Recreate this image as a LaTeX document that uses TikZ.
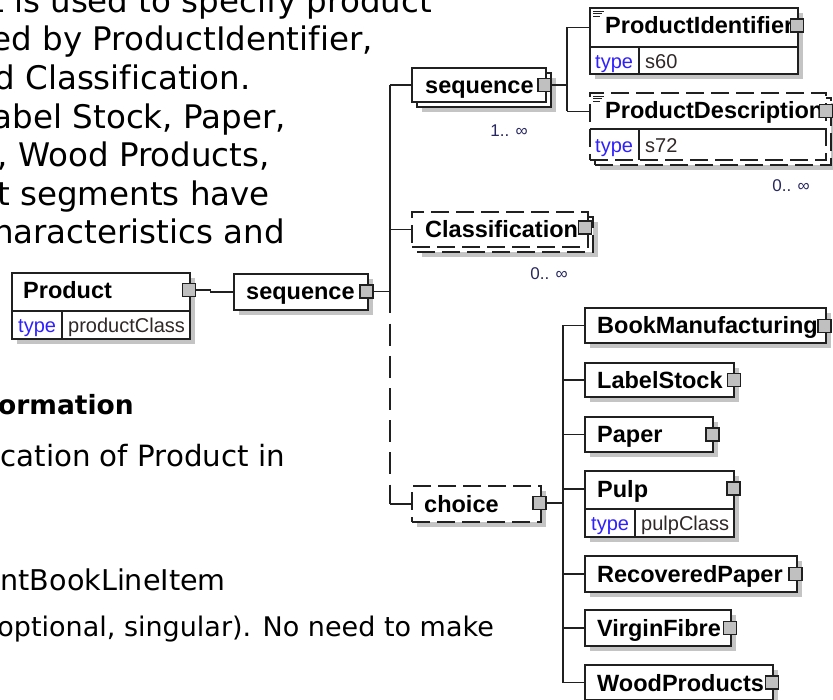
\documentclass[tikz,border=0pt]{standalone}
\usepackage{fontspec}
\setmainfont[Ligatures=NoCommon]{DejaVu Sans}
\newfontfamily\arialf[Ligatures=NoCommon]{Liberation Sans}
\definecolor{shadowgray}{RGB}{196,196,196}
\definecolor{sqgray}{RGB}{192,192,192}
\definecolor{typeblue}{RGB}{48,32,255}
\definecolor{valgray}{RGB}{48,40,40}
\definecolor{multblue}{RGB}{40,40,96}
\definecolor{linecol}{RGB}{32,32,32}
\pgfdeclarelayer{bg}
\pgfsetlayers{bg,main}
\tikzset{
  boxst/.style={draw=linecol, line width=1.6pt, fill=white, inner sep=0pt, outer sep=0pt, rectangle},
  dboxst/.style={boxst, dash pattern=on 18pt off 7pt},
  shad/.style={fill=shadowgray},
  sqst/.style={draw=linecol, line width=1.3pt, fill=sqgray, minimum size=13pt, inner sep=0pt, outer sep=0pt, rectangle},
  conn/.style={draw=linecol, line width=1.6pt},
  dconn/.style={conn, dash pattern=on 22pt off 10.2pt},
  sep/.style={draw=linecol, line width=1.4pt},
  icon/.style={draw=linecol, line width=0.9pt},
  ename/.style={font=\arialf\bfseries\fontsize{23.5}{23.5}\selectfont, anchor=base west, inner sep=0pt},
  tkey/.style={font=\arialf\fontsize{20}{20}\selectfont, text=typeblue, anchor=base west, inner sep=0pt},
  tval/.style={font=\arialf\fontsize{20}{20}\selectfont, text=valgray, anchor=base west, inner sep=0pt},
  mult/.style={font=\arialf\fontsize{17}{17}\selectfont, text=multblue, anchor=base east, inner sep=0pt},
  para/.style={anchor=base east, inner sep=0pt, font=\fontsize{32.5}{38}\selectfont},
}
\newcommand\xbox[6]{\node[#1, anchor=north west, minimum width={#5-#3}, minimum height={#6-#4}] (#2) at (#3,#4) {};}
\newcommand\shadowof[1]{\begin{pgfonlayer}{bg}\fill[shad] ([shift={(5,5)}]#1.north west) rectangle ([shift={(5,5)}]#1.south east);\end{pgfonlayer}}
\begin{document}
\begin{tikzpicture}[x=1pt,y=-1pt]
\useasboundingbox (0,0) rectangle (833,700);
\clip (0,0) rectangle (833,700);
\begin{pgfonlayer}{bg}\fill[white] (0,0) rectangle (833,700);\end{pgfonlayer}

% ---- document text ----
\node[para] (t1) at (432,12.3) {t is used to specify product};
\node[para] (t2) at (373,50.9) {ed by ProductIdentifier,};
\node[para] (t3) at (251,89.5) {d Classification.};
\node[para] (t4) at (286,128.1) {abel Stock, Paper,};
\node[para] (t5) at (270,166.7) {, Wood Products,};
\node[para] (t6) at (270,205.3) {t segments have};
\node[para] (t7) at (285,243.9) {haracteristics and};
\node[para, font=\bfseries\fontsize{26.5}{30}\selectfont] (t8) at (134,415) {ormation};
\node[para, font=\fontsize{29.3}{34}\selectfont] (t9) at (285,467) {cation of Product in};
\node[para, font=\fontsize{28.6}{34}\selectfont] (t10) at (226,590) {ntBookLineItem};
\node[para, font=\fontsize{27}{32}\selectfont] (t11) at (494,636.5) {optional, singular). No need to make};

% ---- Product ----
\xbox{boxst}{product}{12}{273}{190}{339}
\shadowof{product}
\draw[sep] (12,311) -- (190,311);
\draw[sep] (62,311) -- (62,339);
\node[ename] (productname) at (23,299) {Product};
\node[tkey] (producttype) at (18,333) {type};
\node[tval] (productval) at (68,333) {productClass};
\node[sqst] (productsq) at (189,290) {};

% ---- main sequence ----
\xbox{boxst}{mseq}{234}{274}{368}{310}
\shadowof{mseq}
\node[ename] (mseqname) at (246,300) {sequence};
\node[sqst] (mseqsq) at (366.5,291.5) {};
\draw[conn] (productsq.east) -- ++(15,0) |- (mseq.west);

% ---- inner sequence (1..inf) ----
\xbox{boxst}{iseqb}{417}{73}{551}{107}
\shadowof{iseqb}
\xbox{boxst}{iseq}{412}{68}{546}{102}
\node[ename] (iseqname) at (425,94) {sequence};
\node[sqst] (iseqsq) at (544.5,85) {};
\node[mult] (iseqm) at (528,137) {1.. ∞};

% ---- ProductIdentifier ----
\xbox{boxst}{pid}{590}{8}{798}{74}
\shadowof{pid}
\draw[sep] (590,47) -- (798,47);
\draw[sep] (639,47) -- (639,74);
\draw[icon] (593,11.5) -- (604,11.5) (593,13.8) -- (602,13.8) (593,16.1) -- (600,16.1);
\node[ename] (pidname) at (605,34) {ProductIdentifier};
\node[tkey] (pidtype) at (595,68.5) {type};
\node[tval] (pidval) at (645,68.5) {s60};
\node[sqst] (pidsq) at (797,25.5) {};
\coordinate (pidin) at (590,27.5);

% ---- ProductDescription (0..inf) ----
\xbox{dboxst}{pdb}{595}{98}{831}{165}
\shadowof{pdb}
\xbox{dboxst}{pd}{590}{93}{826}{160}
\draw[sep] (590,129) -- (826,129);
\draw[sep] (639,129) -- (639,160);
\draw[icon] (593,96.5) -- (604,96.5) (593,98.8) -- (602,98.8) (593,101.1) -- (600,101.1);
\node[ename] (pdname) at (605,119) {ProductDescription};
\node[tkey] (pdtype) at (595,153) {type};
\node[tval] (pdval) at (645,153) {s72};
\node[sqst] (pdsq) at (826,111) {};
\node[mult] (pdm) at (810,192) {0.. ∞};
\coordinate (pdin) at (590,111.5);

% ---- Classification (0..inf) ----
\xbox{dboxst}{clsfb}{417}{217}{593}{252}
\shadowof{clsfb}
\xbox{dboxst}{clsf}{412}{212}{588}{247}
\node[ename] (clsfname) at (425,238) {Classification};
\node[sqst] (clsfsq) at (585,227.5) {};
\node[mult] (clsfm) at (568,280) {0.. ∞};

% ---- choice ----
\xbox{dboxst}{choice}{412}{486}{541}{522}
\shadowof{choice}
\node[ename] (choicename) at (424,512) {choice};
\node[sqst] (choicesq) at (539.5,503) {};

% ---- choice children ----
\xbox{boxst}{book}{585}{308}{826}{343}
\shadowof{book}
\node[ename] (bookname) at (597,334) {BookManufacturing};
\node[sqst] (booksq) at (824.5,326) {};

\xbox{boxst}{label}{585}{363}{734}{397}
\shadowof{label}
\node[ename] (labelname) at (597,389) {LabelStock};
\node[sqst] (labelsq) at (734,380) {};

\xbox{boxst}{paper}{585}{417}{713}{452}
\shadowof{paper}
\node[ename] (papername) at (597,443) {Paper};
\node[sqst] (papersq) at (712.5,434.5) {};

\xbox{boxst}{pulp}{585}{471}{734}{537}
\shadowof{pulp}
\draw[sep] (585,509) -- (734,509);
\draw[sep] (635,509) -- (635,537);
\node[ename] (pulpname) at (597,497) {Pulp};
\node[tkey] (pulptype) at (591,530.5) {type};
\node[tval] (pulpval) at (641,530.5) {pulpClass};
\node[sqst] (pulpsq) at (733.5,488.5) {};
\coordinate (pulpin) at (585,489);

\xbox{boxst}{recov}{585}{556}{797}{592}
\shadowof{recov}
\node[ename] (recovname) at (597,582) {RecoveredPaper};
\node[sqst] (recovsq) at (795.5,574) {};

\xbox{boxst}{virgin}{585}{610}{731}{646}
\shadowof{virgin}
\node[ename] (virginname) at (597,636) {VirginFibre};
\node[sqst] (virginsq) at (730,628) {};

\xbox{boxst}{wood}{585}{665}{773}{700}
\shadowof{wood}
\node[ename] (woodname) at (597,691) {WoodProducts};
\node[sqst] (woodsq) at (772,682.5) {};

% ---- connectors ----
\coordinate (vx) at (390,0);
\coordinate (vx2) at (567,0);
\coordinate (vx3) at (563,0);

\draw[conn] (mseqsq.east) -- (mseqsq.east -| vx);
\draw[conn] (iseq.west -| vx) -- (mseqsq.east -| vx);
\draw[conn] (iseq.west -| vx) -- (iseq.west);
\draw[conn] (clsf.west -| vx) -- (clsf.west);
\draw[dconn] (mseqsq.east -| vx) -- (choice.west -| vx);
\draw[conn] (choice.west -| vx) -- (choice.west);

\draw[conn] (iseqsq.east) -- (iseqsq.east -| vx2);
\draw[conn] (pidin -| vx2) -- (pdin -| vx2);
\draw[conn] (pidin -| vx2) -- (pidin);
\draw[conn] (pdin -| vx2) -- (pdin);

\draw[conn] (choicesq.east) -- (choicesq.east -| vx3);
\draw[conn] (book.west -| vx3) -- (wood.west -| vx3);
\draw[conn] (book.west -| vx3) -- (book.west);
\draw[conn] (label.west -| vx3) -- (label.west);
\draw[conn] (paper.west -| vx3) -- (paper.west);
\draw[conn] (pulpin -| vx3) -- (pulpin);
\draw[conn] (recov.west -| vx3) -- (recov.west);
\draw[conn] (virgin.west -| vx3) -- (virgin.west);
\draw[conn] (wood.west -| vx3) -- (wood.west);
\end{tikzpicture}
\end{document}
